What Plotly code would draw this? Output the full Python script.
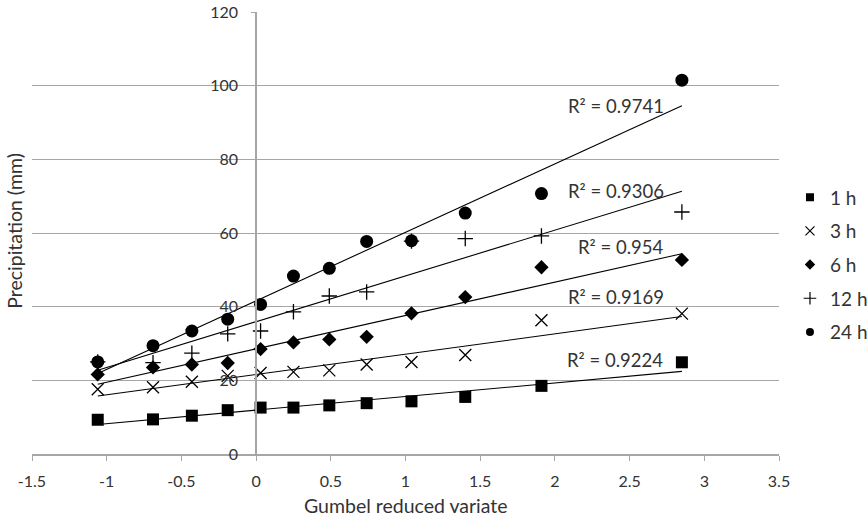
import numpy as np
import plotly.graph_objects as go

# ---- data ----
gumbel_x = [-1.06, -0.69, -0.43, -0.19, 0.03, 0.25, 0.49, 0.74, 1.04, 1.40, 1.91, 2.85]
series_names = ["1 h", "3 h", "6 h", "12 h", "24 h"]
p_1h = [9.3, 9.4, 10.4, 11.9, 12.6, 12.6, 13.2, 13.8, 14.3, 15.5, 18.5, 24.9]
p_3h = [17.6, 18.1, 19.6, 21.2, 22.0, 22.3, 22.7, 24.3, 25.0, 26.9, 36.3, 38.1]
p_6h = [21.6, 23.5, 24.3, 24.7, 28.5, 30.3, 31.1, 31.8, 38.2, 42.6, 50.7, 52.7]
p_12h = [25.0, 24.8, 27.4, 32.6, 33.4, 38.6, 42.9, 44.0, 57.8, 58.5, 59.2, 65.7]
p_24h = [25.0, 29.4, 33.4, 36.6, 40.6, 48.3, 50.4, 57.7, 57.9, 65.4, 70.7, 101.5]
r2_labels = ["R² = 0.9224", "R² = 0.9169", "R² = 0.954", "R² = 0.9306", "R² = 0.9741"]
x_tick_vals = [-1.5, -1, -0.5, 0, 0.5, 1, 1.5, 2, 2.5, 3, 3.5]
x_tick_text = ["-1.5", "-1", "-0.5", "0", "0.5", "1", "1.5", "2", "2.5", "3", "3.5"]
y_tick_vals = [0, 20, 40, 60, 80, 100, 120]

# ---- styles / positions ----
values = [p_1h, p_3h, p_6h, p_12h, p_24h]
symbols = ["square", "x-thin-open", "diamond", "cross-thin-open", "circle"]
sizes = [12, 12, 11, 11, 13]
legend_sizes = [8, 9, 8, 9, 8]
label_pos = [(2.40, 25.4), (2.41, 42.6), (2.44, 56.3), (2.41, 71.4), (2.41, 94.4)]

FONT = "Lato"
TXT = "#333333"
GRAY = "#a6a6a6"

fig = go.Figure()
xs = np.array(gumbel_x)
for name, ys, sym, sz in zip(series_names, values, symbols, sizes):
    is_open = sym.endswith("open")
    fig.add_trace(go.Scatter(
        x=gumbel_x, y=ys, mode="markers", name=name, showlegend=False,
        marker=dict(symbol=sym, size=sz, color="black",
                    line=dict(color="black", width=1.3 if is_open else 0)),
    ))

# trend lines (least-squares fit of each series)
for ys in values:
    slope, icpt = np.polyfit(xs, np.array(ys), 1)
    x_ends = [xs.min(), xs.max()]
    fig.add_trace(go.Scatter(
        x=x_ends, y=[slope * v + icpt for v in x_ends], mode="lines",
        line=dict(color="black", width=1.1), showlegend=False, hoverinfo="skip",
    ))

# legend entries
for i, (name, sym, lsz) in enumerate(zip(series_names, symbols, legend_sizes)):
    is_open = sym.endswith("open")
    fig.add_trace(go.Scatter(
        x=[None], y=[None], mode="markers", name=name, legendgroup=f"g{i}",
        marker=dict(symbol=sym, size=lsz, color="black",
                    line=dict(color="black", width=1.2 if is_open else 0)),
    ))

annotations = []
for txt, (ax, ay) in zip(r2_labels, label_pos):
    annotations.append(dict(x=ax, y=ay, xref="x", yref="y", text=txt, showarrow=False,
                            font=dict(family=FONT, size=18.5, color=TXT)))
annotations.append(dict(x=-0.0228, y=0.505, xref="paper", yref="paper", text="Precipitation (mm)",
                        textangle=-90, xanchor="center", yanchor="middle", showarrow=False,
                        font=dict(family=FONT, size=19.5, color=TXT)))
annotations.append(dict(x=0.5, y=-0.1154, xref="paper", yref="paper", text="Gumbel reduced variate",
                        xanchor="center", yanchor="middle", showarrow=False,
                        font=dict(family=FONT, size=19.5, color=TXT)))

fig.update_layout(
    width=867, height=518,
    margin=dict(l=32, r=88, t=12, b=64, autoexpand=False),
    paper_bgcolor="white", plot_bgcolor="white",
    font=dict(family=FONT, size=16, color=TXT),
    xaxis=dict(range=[-1.5, 3.5], tickvals=x_tick_vals, ticktext=x_tick_text,
               showgrid=False, zeroline=False, showline=True, linecolor=GRAY, linewidth=1.5,
               ticks="outside", ticklen=5, tickcolor=GRAY, tickwidth=1.3,
               ticklabelstandoff=7, tickfont=dict(family=FONT, size=16, color=TXT)),
    yaxis=dict(range=[0, 120], tickvals=y_tick_vals, anchor="free", position=0.2999,
               showgrid=True, gridcolor=GRAY, gridwidth=1.3, zeroline=False,
               showline=True, linecolor=GRAY, linewidth=1.5,
               ticks="outside", ticklen=4, tickcolor=GRAY, tickwidth=1.3,
               ticklabelstandoff=10, tickfont=dict(family=FONT, size=16, color=TXT)),
    legend=dict(x=1.0147, xanchor="left", y=0.428, yanchor="middle", traceorder="grouped",
                tracegroupgap=6, font=dict(family=FONT, size=19, color=TXT),
                bgcolor="rgba(0,0,0,0)", itemwidth=30),
    annotations=annotations,
    showlegend=True,
)

fig.write_html("out.html")
